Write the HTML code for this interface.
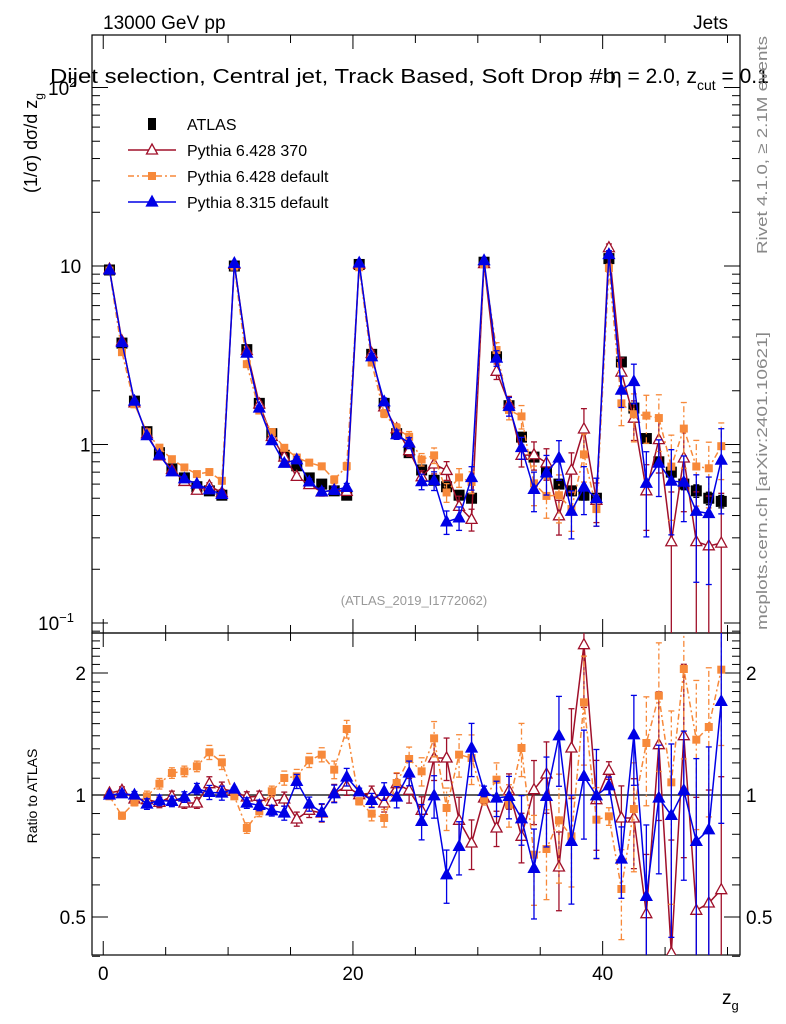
<!DOCTYPE html>
<html><head><meta charset="utf-8"><style>
html,body{margin:0;padding:0;background:#fff;width:786px;height:1024px;overflow:hidden;}
svg{display:block;font-family:"Liberation Sans",sans-serif;}
</style></head><body>
<svg id="c" width="786" height="1024" viewBox="0 0 786 1024"></svg>
<script>
// ---- data ----
const bins = [];
for (let i = 0; i < 50; i++) bins.push(i + 0.5);
const atlas = [9.5,3.7,1.75,1.18,0.9,0.73,0.65,0.58,0.55,0.52,
  10,3.4,1.7,1.15,0.87,0.76,0.65,0.6,0.55,0.52,
  10.2,3.2,1.7,1.15,0.9,0.72,0.63,0.58,0.52,0.5,
  10.5,3.1,1.65,1.1,0.85,0.7,0.6,0.55,0.52,0.5,
  11,2.9,1.6,1.08,0.8,0.7,0.6,0.55,0.5,0.48];
const redRead = [460,452,478,480,488,470,490,490,432,448,455,472,470,485,478,538,512,520,460,440,465,460,490,432,452,512,355,355,542,610,475,565,453,590,450,403,682,325,15,480,392,535,535,822,315,940,288,812,790,750];
const orangeRead = [470,528,488,470,432,400,395,380,338,368,470,565,515,455,415,410,362,345,390,268,485,522,535,430,358,395,296,505,345,355,480,420,495,325,645,628,542,590,188,540,530,748,508,310,168,428,88,300,262,90];
const blueRead = [466,462,466,493,482,485,472,447,458,460,448,490,497,513,520,425,493,518,462,412,456,482,455,472,400,545,468,705,620,325,455,475,470,537,686,470,288,605,410,468,438,658,285,770,475,527,452,605,570,185];
const ratioFromRead = y => Math.pow(2, (466 - y) / 366);
const redRatio = redRead.map(ratioFromRead);
const orangeRatio = orangeRead.map(ratioFromRead);
const blueRatio = blueRead.map(ratioFromRead);
const dataErr = [0.01,0.02,0.02,0.02,0.02,0.03,0.03,0.03,0.03,0.03, 0.01,0.02,0.02,0.03,0.03,0.03,0.03,0.03,0.03,0.03, 0.01,0.02,0.03,0.03,0.03,0.04,0.04,0.04,0.04,0.04, 0.02,0.03,0.04,0.04,0.05,0.05,0.05,0.06,0.06,0.06, 0.02,0.04,0.05,0.06,0.06,0.07,0.07,0.08,0.08,0.08];
const redErr = [0.01,0.02,0.02,0.03,0.03,0.03,0.03,0.03,0.04,0.04, 0.01,0.03,0.03,0.03,0.04,0.04,0.04,0.05,0.05,0.05, 0.02,0.04,0.05,0.06,0.07,0.08,0.12,0.12,0.14,0.14, 0.03,0.1,0.1,0.14,0.18,0.2,0.22,0.25,0.3,0.25, 0.05,0.2,0.25,0.4,0.35,0.9,0.5,0.9,0.9,0.9];
const orangeErr = [0.01,0.02,0.02,0.03,0.03,0.03,0.03,0.03,0.04,0.04, 0.01,0.03,0.03,0.03,0.04,0.04,0.04,0.04,0.05,0.05, 0.02,0.04,0.05,0.06,0.07,0.08,0.1,0.12,0.12,0.14, 0.03,0.1,0.12,0.15,0.25,0.25,0.3,0.25,0.3,0.2, 0.05,0.25,0.3,0.3,0.35,0.5,0.4,0.4,0.4,0.35];
const blueErr = [0.01,0.02,0.02,0.03,0.03,0.03,0.03,0.03,0.04,0.04, 0.01,0.03,0.03,0.03,0.04,0.04,0.04,0.05,0.05,0.05, 0.02,0.04,0.05,0.06,0.07,0.1,0.12,0.15,0.15,0.15, 0.03,0.1,0.12,0.14,0.25,0.25,0.25,0.3,0.3,0.3, 0.05,0.2,0.25,0.5,0.35,0.5,0.4,0.6,0.6,0.5];
const yTicksMain = [["10",1],["1",0],["10",-1]];

// ---- axes ----
const X0=92, X1=740, MT=35, MB=633, RB=955;
const xmin=-0.9, xmax=51;
const sx = v => X0 + (v - xmin) / (xmax - xmin) * (X1 - X0);
const syM = v => 266 - (Math.log10(v) - 1) * 178.5;
const syR = v => 795 - Math.log2(v) * 122;

const svg = document.getElementById('c');
const NS = 'http://www.w3.org/2000/svg';
function el(tag, attrs, parent) {
  const e = document.createElementNS(NS, tag);
  for (const k in attrs) e.setAttribute(k, attrs[k]);
  (parent || svg).appendChild(e);
  return e;
}
function txt(s, x, y, size, attrs, parent) {
  const t = el('text', Object.assign({x:x, y:y, 'font-size':size}, attrs || {}), parent);
  t.textContent = s;
  return t;
}
const clipM = el('clipPath', {id:'cm'}); el('rect',{x:X0,y:MT,width:X1-X0,height:MB-MT},clipM);
const clipR = el('clipPath', {id:'cr'}); el('rect',{x:X0,y:MB,width:X1-X0,height:RB-MB},clipR);

const fm = el('rect',{x:X0,y:MT,width:X1-X0,height:MB-MT,fill:'none',stroke:'#000','stroke-width':1.2});


const fr = el('rect',{x:X0,y:MB,width:X1-X0,height:RB-MB,fill:'none',stroke:'#000','stroke-width':1.2});



const xt = el('g',{stroke:'#000','stroke-width':1});


for (let v = 0; v <= 50; v += 5) {
  const L = (v % 20 === 0) ? 14 : 8;
  const x = sx(v);
  el('line',{x1:x,y1:MT,x2:x,y2:MT+L},xt);
  el('line',{x1:x,y1:MB,x2:x,y2:MB-L},xt);
  el('line',{x1:x,y1:MB,x2:x,y2:MB+L},xt);
  el('line',{x1:x,y1:RB,x2:x,y2:RB-L},xt);
}
[0,20,40].forEach(v => {
  const t = txt(String(v), sx(v), 980, 19, {'text-anchor':'middle'});
  
  
});
const yt = el('g',{stroke:'#000','stroke-width':1});


for (let e = -2; e <= 2; e++) for (let m = 1; m <= 9; m++) {
  const v = m * Math.pow(10, e); const y = syM(v);
  if (y < MT || y > MB) continue;
  const L = m === 1 ? 16 : 8;
  el('line',{x1:X0,y1:y,x2:X0+L,y2:y},yt);
  el('line',{x1:X1,y1:y,x2:X1-L,y2:y},yt);
}
yTicksMain.forEach(([b, e]) => {
  const y = syM(Math.pow(10, e));
  const g = el('text',{x:60, y:y+7, 'font-size':19, 'text-anchor':'start'});
  
  
  if (e === 0) { g.setAttribute('x', 80); g.textContent = b; }
  else if (e === 1) { g.setAttribute('x', 60); g.textContent = b; }
  else { g.setAttribute('x', 38); g.textContent = b; const s = el('tspan',{dy:-8,'font-size':13},g); s.textContent = '−1'; }
});
{ const t = txt('10', 48, 95, 19, {});   const s=el('tspan',{dy:-8,'font-size':13},t); s.textContent='2'; }
const rt = el('g',{stroke:'#000','stroke-width':1});


[0.4,0.5,0.6,0.7,0.8,0.9,1,2].forEach(v => {
  const y = syR(v); const L = (v===0.5||v===1||v===2)?16:8;
  el('line',{x1:X0,y1:y,x2:X0+L,y2:y},rt);
  el('line',{x1:X1,y1:y,x2:X1-L,y2:y},rt);
});
for (let v = 1.1; v < 2.5; v += 0.1) { if (Math.abs(v-2)<0.01) continue; const y = syR(v);
  el('line',{x1:X0,y1:y,x2:X0+8,y2:y},rt); el('line',{x1:X1,y1:y,x2:X1-8,y2:y},rt); }
[["2",2],["1",1],["0.5",0.5]].forEach(([s,v]) => {
  const a = txt(s, 86, syR(v)+7, 19, {'text-anchor':'end'});
   
  const b = txt(s, 746, syR(v)+7, 19, {'text-anchor':'start'});
   
});
const one = el('line',{x1:X0,y1:syR(1),x2:X1,y2:syR(1),stroke:'#000','stroke-width':1.3});



function tri(g, x, y, color, filled) {
  el('path',{d:`M${x},${y-6}L${x+5.5},${y+4}L${x-5.5},${y+4}Z`, fill: filled?color:'#fff', stroke: color, 'stroke-width':1.3}, g);
}
function sq(g, x, y, color, s) { el('rect',{x:x-s/2,y:y-s/2,width:s,height:s,fill:color},g); }
function drawSeries(name, vals, errs, color, dash, marker, sy, clip) {
  const g = el('g',{'clip-path':`url(#${clip})`});
  
  
  const pts = vals.map((v,i)=>[sx(bins[i]), sy(v)]);
  if (dash !== null) el('polyline',{points:pts.map(p=>p.join(',')).join(' '),fill:'none',stroke:color,'stroke-width':1.5,'stroke-dasharray':dash},g);
  vals.forEach((v,i)=>{
    const x = pts[i][0]; const lo = sy(Math.max(v*(1-errs[i]),1e-3)); const hi = sy(v*(1+errs[i]));
    el('line',{x1:x,y1:lo,x2:x,y2:hi,stroke:color,'stroke-width':1.3,'stroke-dasharray':dash||''},g);
    el('line',{x1:x-3,y1:lo,x2:x+3,y2:lo,stroke:color,'stroke-width':1.3},g);
    el('line',{x1:x-3,y1:hi,x2:x+3,y2:hi,stroke:color,'stroke-width':1.3},g);
  });
  pts.forEach(([x,y])=>{
    if (marker==='sq') sq(g,x,y,'#000',11);
    else if (marker==='osq') sq(g,x,y,color,8);
    else if (marker==='otri') tri(g,x,y,color,false);
    else tri(g,x,y,color,true);
  });
}
const red = atlas.map((v,i)=>v*redRatio[i]);
const orange = atlas.map((v,i)=>v*orangeRatio[i]);
const blue = atlas.map((v,i)=>v*blueRatio[i]);
drawSeries('atlas-data', atlas, dataErr, '#000', null, 'sq', syM, 'cm');
drawSeries('pythia6-370-series', red, redErr, '#a0102a', '', 'otri', syM, 'cm');
drawSeries('pythia6-default-series', orange, orangeErr, '#f7893a', '6,3,2,3', 'osq', syM, 'cm');
drawSeries('pythia8-default-series', blue, blueErr, '#0000e6', '', 'ftri', syM, 'cm');
drawSeries('pythia6-370-ratio', redRatio, redErr, '#a0102a', '', 'otri', syR, 'cr');
drawSeries('pythia6-default-ratio', orangeRatio, orangeErr, '#f7893a', '6,3,2,3', 'osq', syR, 'cr');
drawSeries('pythia8-default-ratio', blueRatio, blueErr, '#0000e6', '', 'ftri', syR, 'cr');

const lg = el('g',{});  
const legendItems = [['ATLAS','#000','sq',null],['Pythia 6.428 370','#a0102a','otri',''],['Pythia 6.428 default','#f7893a','osq','6,3,2,3'],['Pythia 8.315 default','#0000e6','ftri','']];
legendItems.forEach(([s,c,m,d],k)=>{
  const y = 124 + k*26; const e = el('g',{},lg);
   
  if (d!==null) el('line',{x1:128,y1:y,x2:176,y2:y,stroke:c,'stroke-width':1.5,'stroke-dasharray':d},e);
  if (m==='sq') el('rect',{x:148,y:y-6,width:8,height:12,fill:'#000'},e);
  else if (m==='osq') sq(e,152,y,c,8); else tri(e,152,y,c,m==='ftri');
  txt(s,187,y+6,16,{},e);
});

function named(t,n){return t;}
named(txt('13000 GeV pp',103,29,19,{}),'energy-label');
named(txt('Jets',728,29,19,{'text-anchor':'end'}),'process-label');
named(txt('Dijet selection, Central jet, Track Based, Soft Drop #b',50,83,20,{textLength:566,lengthAdjust:'spacingAndGlyphs'}),'plot-title');
const t2 = named(txt('η = 2.0, z',610,83,21,{}),'plot-title-2'); const ts = el('tspan',{dy:7,'font-size':14},t2); ts.textContent='cut'; const ts2 = el('tspan',{dy:-7},t2); ts2.textContent=' = 0.1';
named(txt('(ATLAS_2019_I1772062)',414,605,13,{'text-anchor':'middle',fill:'#999'}),'analysis-id');
const yl = named(txt('(1/σ) dσ/d z',0,0,18,{'text-anchor':'start',transform:'translate(37,193) rotate(-90)'}),'y-axis-title');
const ys = el('tspan',{dy:6,'font-size':12},yl); ys.textContent='g';
named(txt('Ratio to ATLAS',0,0,14,{'text-anchor':'middle',transform:'translate(37,796) rotate(-90)'}),'ratio-axis-title');
const xl = named(txt('z',722,1004,19,{}),'x-axis-title'); const xs=el('tspan',{dy:6,'font-size':13},xl); xs.textContent='g';
named(txt('Rivet 4.1.0, ≥ 2.1M events',0,0,15,{'text-anchor':'start',fill:'#888',textLength:218,lengthAdjust:'spacingAndGlyphs',transform:'translate(767,254) rotate(-90)'}),'rivet-label');
named(txt('mcplots.cern.ch [arXiv:2401.10621]',0,0,15,{'text-anchor':'start',fill:'#888',textLength:298,lengthAdjust:'spacingAndGlyphs',transform:'translate(767,630) rotate(-90)'}),'mcplots-label');
</script>
</body></html>
